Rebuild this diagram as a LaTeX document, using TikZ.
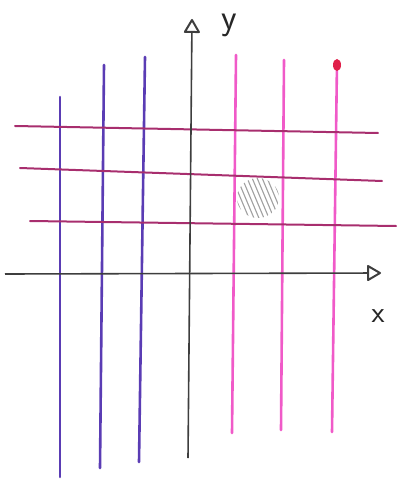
\documentclass[tikz,border=0pt]{standalone}
\usepackage{tikz}
\usetikzlibrary{arrows.meta}
\definecolor{violetline}{HTML}{5A3CB4}
\definecolor{pinkline}{HTML}{F05AC8}
\definecolor{crimsonline}{HTML}{A82E6E}
\definecolor{axisgray}{HTML}{3E3E3E}
\definecolor{hatchgray}{HTML}{A0A0A0}
\definecolor{dotred}{HTML}{E0204A}
\tikzset{
  axisline/.style={draw=axisgray, line width=1.6pt,
    -{Triangle[open, length=15pt, width=17pt, line width=2pt, round]}},
  vline/.style={line width=2.6pt, line cap=round},
  negline/.style={vline, draw=violetline},
  posline/.style={vline, draw=pinkline},
  hline/.style={draw=crimsonline, line width=2pt, line cap=round},
  hatch/.style={draw=hatchgray, line width=1.1pt},
  axislabel/.style={font=\sffamily\fontsize{30}{30}\selectfont, text=black!85, inner sep=0pt}
}

\begin{document}
\begin{tikzpicture}[x=1pt, y=-1pt]
  \useasboundingbox (0,0) rectangle (397,481);

  \foreach \xa/\ya/\xb/\yb in {60/97/60/477, 104/65/100/468, 145/57/139/462}
    \draw[negline] (\xa,\ya) -- (\xb,\yb);
  \foreach \xa/\ya/\xb/\yb in {236/55/232/433, 284/60/281/430, 337/62/332/432}
    \draw[posline] (\xa,\ya) -- (\xb,\yb);
  \fill[dotred] (337,65) ellipse (4 and 6);

  \begin{scope}
    \clip (258,198) ellipse (21 and 20);
    \foreach \s in {220,225,...,285}
      \draw[hatch] (\s,173) -- ++(21,50);
  \end{scope}

  \draw[hline] (15,126) -- (378,133);
  \draw[hline] (20,168) -- (382,181);
  \draw[hline] (30,221) -- (396,226);

  \coordinate (xs) at (5,274);
  \coordinate (xe) at (381,273);
  \coordinate (ys) at (188,458);
  \coordinate (ye) at (192,19);
  \draw[axisline] (xs) -- (xe);
  \draw[axisline] (ys) -- (ye);

  \node[axislabel, font=\sffamily\fontsize{36}{36}\selectfont, anchor=base] (ylab) at (229,30) {y};
  \node[axislabel] (xlab) at (378,316) {x};
\end{tikzpicture}
\end{document}
